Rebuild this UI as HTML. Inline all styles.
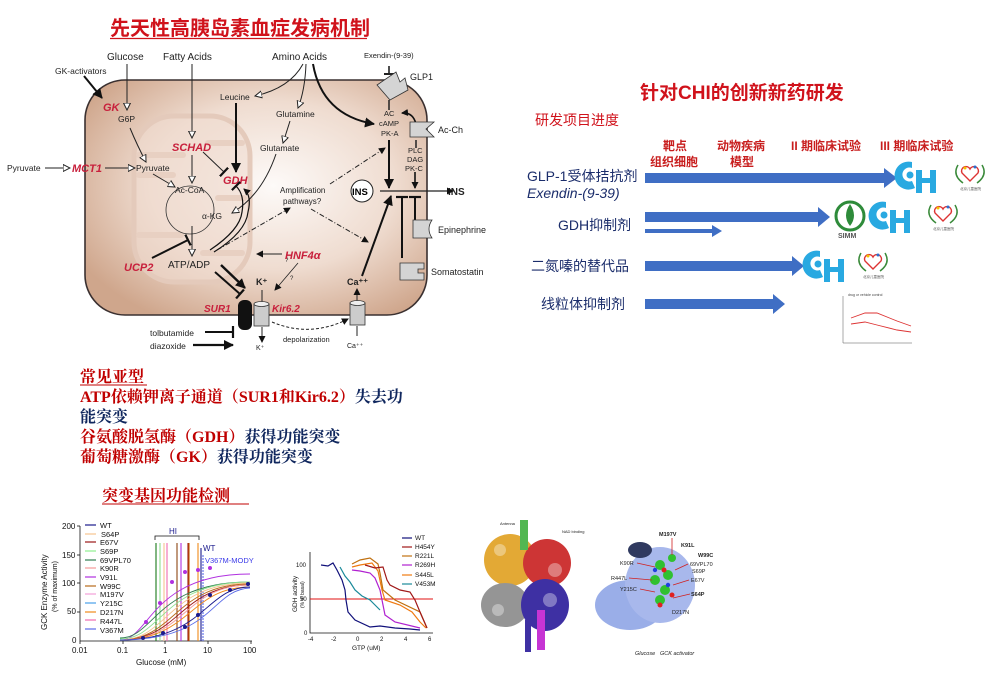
<!DOCTYPE html>
<html><head><meta charset="utf-8"><style>
body{margin:0;background:#fff;width:988px;height:673px;overflow:hidden}
svg{display:block}
.s{font-family:"Liberation Sans","Noto Sans CJK SC",sans-serif}
.r{fill:#c8203c;font-style:italic;font-weight:bold}
.sf{font-family:"Liberation Serif","Noto Serif CJK SC",serif;font-weight:bold}
</style></head><body>
<svg width="988" height="673" viewBox="0 0 988 673" xmlns="http://www.w3.org/2000/svg" class="s">
<defs>
<radialGradient id="cg" cx="0.55" cy="0.45" r="0.65">
<stop offset="0" stop-color="#fdfaf8"/><stop offset="0.55" stop-color="#efdcd0"/><stop offset="1" stop-color="#cfa68c"/>
</radialGradient>
<marker id="op" markerWidth="8" markerHeight="8" refX="7" refY="4" orient="auto" markerUnits="userSpaceOnUse"><path d="M0,0.5 L7,4 L0,7.5 Z" fill="#fff" stroke="#222" stroke-width="1"/></marker>
<marker id="so" markerWidth="10" markerHeight="10" refX="9" refY="5" orient="auto" markerUnits="userSpaceOnUse"><path d="M0,0 L10,5 L0,10 Z" fill="#111"/></marker>
<marker id="sm" markerWidth="7" markerHeight="7" refX="6" refY="3.5" orient="auto" markerUnits="userSpaceOnUse"><path d="M0,0 L7,3.5 L0,7 Z" fill="#111"/></marker>
<marker id="tb" markerWidth="4" markerHeight="12" refX="2" refY="6" orient="auto" markerUnits="userSpaceOnUse"><path d="M2,0 L2,12" stroke="#111" stroke-width="2.2"/></marker>
</defs>

<!-- ===== Top-left diagram ===== -->
<text x="110" y="35" font-size="20" font-weight="bold" fill="#d0121b">先天性高胰岛素血症发病机制</text>
<line x1="110" y1="38.5" x2="367" y2="38.5" stroke="#d0121b" stroke-width="1.3"/>

<rect x="85" y="80" width="342" height="235" rx="40" fill="url(#cg)" stroke="#3a3030" stroke-width="1.6"/>
<rect x="134" y="116" width="116" height="166" rx="40" fill="#f0dcd0" fill-opacity="0.6" stroke="#e4cabb" stroke-width="5"/>
<g fill="#e8d0c2"><rect x="136" y="152" width="50" height="6" rx="3"/><rect x="136" y="172" width="40" height="6" rx="3"/><rect x="136" y="232" width="48" height="6" rx="3"/><rect x="205" y="140" width="40" height="6" rx="3"/><rect x="215" y="195" width="32" height="6" rx="3"/><rect x="200" y="250" width="45" height="6" rx="3"/></g>
<circle cx="190" cy="210" r="24" fill="none" stroke="#333" stroke-width="0.8"/>

<g font-size="10" fill="#222">
<text x="107" y="60">Glucose</text>
<text x="163" y="60">Fatty Acids</text>
<text x="272" y="60">Amino Acids</text>
<text x="55" y="74" font-size="8.5">GK-activators</text>
<text x="364" y="58" font-size="7.5">Exendin-(9-39)</text>
<text x="410" y="80" font-size="9">GLP1</text>
<text x="220" y="100" font-size="8.5">Leucine</text>
<text x="118" y="122" font-size="8.5">G6P</text>
<text x="276" y="117" font-size="8.5">Glutamine</text>
<text x="260" y="151" font-size="8.5">Glutamate</text>
<text x="384" y="116" font-size="7.5">AC</text>
<text x="379" y="126" font-size="7.5">cAMP</text>
<text x="381" y="136" font-size="7.5">PK-A</text>
<text x="438" y="133" font-size="9">Ac-Ch</text>
<text x="408" y="153" font-size="7.5">PLC</text>
<text x="407" y="162" font-size="7.5">DAG</text>
<text x="405" y="171" font-size="7.5">PK-C</text>
<text x="7" y="171" font-size="8.5">Pyruvate</text>
<text x="136" y="171" font-size="8.5">Pyruvate</text>
<text x="175" y="193" font-size="8.5">Ac-CoA</text>
<text x="280" y="193" font-size="8">Amplification</text>
<text x="283" y="204" font-size="8">pathways?</text>
<text x="202" y="219" font-size="8.5">α-KG</text>
<text x="168" y="268" font-size="10">ATP/ADP</text>
<text x="438" y="233" font-size="9">Epinephrine</text>
<text x="431" y="275" font-size="9">Somatostatin</text>
<text x="150" y="336" font-size="8.5">tolbutamide</text>
<text x="150" y="349" font-size="8.5">diazoxide</text>
<text x="283" y="342" font-size="7.5">depolarization</text>
<text x="256" y="350" font-size="7">K⁺</text>
<text x="347" y="348" font-size="7">Ca⁺⁺</text>
<text x="256" y="285" font-size="9" font-weight="bold">K⁺</text>
<text x="347" y="285" font-size="9" font-weight="bold">Ca⁺⁺</text>
<text x="448" y="195" font-size="10" font-weight="bold">INS</text>
<text x="285" y="262" font-size="6">?</text><text x="290" y="280" font-size="6">?</text>
</g>
<circle cx="362" cy="191" r="11" fill="#fff" stroke="#222" stroke-width="1"/>
<text x="352" y="195" font-size="9.5" font-weight="bold">INS</text>
<g font-size="11" class="r">
<text x="103" y="111">GK</text>
<text x="172" y="151">SCHAD</text>
<text x="223" y="184">GDH</text>
<text x="72" y="172">MCT1</text>
<text x="124" y="271">UCP2</text>
<text x="285" y="259">HNF4α</text>
<text x="204" y="312" font-size="10">SUR1</text>
<text x="272" y="312" font-size="10">Kir6.2</text>
</g>

<g fill="none" stroke="#222" stroke-width="1">
<path d="M127,64 V110" marker-end="url(#op)"/>
<path d="M130,128 Q137,145 146,162" marker-end="url(#op)"/>
<path d="M192,64 V138" marker-end="url(#op)"/>
<path d="M192,155 V183" marker-end="url(#op)"/>
<path d="M192,226 V256" marker-end="url(#op)"/>
<path d="M45,168 H70" marker-end="url(#op)"/>
<path d="M105,168 H135" marker-end="url(#op)"/>
<path d="M153,174 L175,187" marker-end="url(#op)"/>
<path d="M303,64 Q290,88 255,96" marker-end="url(#op)"/>
<path d="M306,64 Q305,90 298,108" marker-end="url(#op)"/>
<path d="M290,121 L283,143" marker-end="url(#op)"/>
<path d="M276,154 Q262,195 232,213" marker-end="url(#op)"/>
<path d="M203,152 L224,172" marker-end="url(#tb)"/>
<path d="M389,66 V74" stroke-width="1.6"/><path d="M384,74 H394" stroke-width="2"/>
<path d="M389,100 V110" stroke-width="1.5"/>
<path d="M416,140 V148" stroke-width="1.5"/>
<path d="M380,191 H453" stroke-width="1.3" marker-end="url(#sm)"/>
<path d="M262,290 V302"/>
<path d="M262,327 V342" marker-end="url(#sm)"/>
<path d="M357,302 V289" marker-end="url(#sm)"/>
<path d="M357,326 V336"/>
<path d="M282,254 H257" marker-end="url(#sm)"/>
<path d="M298,263 L275,290" stroke-width="0.8" marker-end="url(#sm)"/>
<path d="M217,250 L290,208" stroke-dasharray="5,2,1,2" marker-end="url(#sm)"/>
<path d="M330,184 L385,148" stroke-dasharray="5,2,1,2" marker-end="url(#sm)"/>
<path d="M311,209 L368,242" stroke-dasharray="5,2,1,2" marker-end="url(#sm)"/>
<path d="M272,322 Q310,338 348,319" stroke-dasharray="3,2" marker-end="url(#sm)"/>
</g>
<g fill="none" stroke="#111" stroke-width="2">
<path d="M84,76 L102,98" marker-end="url(#so)"/>
<path d="M236,103 V172" marker-end="url(#so)"/>
<path d="M313,64 Q322,115 374,124" marker-end="url(#so)"/>
<path d="M389,140 V188" marker-end="url(#so)"/>
<path d="M415,172 V188" stroke-width="1.6" marker-end="url(#sm)"/>
<path d="M416,124 Q413,112 402,113" stroke-width="1.6" marker-end="url(#sm)"/>
<path d="M402,258 V197" marker-end="url(#tb)"/>
<path d="M415,228 V197" marker-end="url(#tb)"/>
<path d="M362,276 L391,196" marker-end="url(#so)"/>
<path d="M152,258 L188,240" marker-end="url(#tb)"/>
<path d="M221,265 L245,288" stroke-width="2.4" marker-end="url(#so)"/>
<path d="M215,272 L240,294" marker-end="url(#tb)"/>
<path d="M210,250 Q240,230 242,212 Q245,195 236,186" stroke-width="1.2" marker-end="url(#tb)"/>
<path d="M214,252 Q246,232 248,212 Q252,196 244,189" stroke-width="1.2" marker-end="url(#sm)"/>
<path d="M205,332 H233" marker-end="url(#tb)"/>
<path d="M193,345 H233" stroke-width="2.2" marker-end="url(#so)"/>
</g>
<g fill="#d4d4d4" stroke="#333" stroke-width="0.8">
<path d="M377,85 L396,72 L400,82 L405,78 L408,90 L390,100 Z"/>
<path d="M410,122 H434 L426,129 L434,137 H410 Z"/>
<path d="M413,220 H432 Q426,229 432,238 H413 Z"/>
<path d="M400,263 H424 V269 H418 V273 H424 V280 H400 Z"/>
</g>
<rect x="238" y="300" width="14" height="30" rx="6" fill="#111"/>
<rect x="254" y="304" width="15" height="22" fill="#ccc" stroke="#333" stroke-width="0.8"/><ellipse cx="261.5" cy="304" rx="7.5" ry="2.5" fill="#eee" stroke="#333" stroke-width="0.8"/>
<rect x="350" y="303" width="15" height="22" fill="#ccc" stroke="#333" stroke-width="0.8"/><ellipse cx="357.5" cy="303" rx="7.5" ry="2.5" fill="#eee" stroke="#333" stroke-width="0.8"/>

<!-- ===== Right section ===== -->
<text x="640" y="99" font-size="19" font-weight="bold" fill="#d0121b">针对CHI的创新新药研发</text>
<text x="535" y="125" font-size="14" fill="#d0121b">研发项目进度</text>
<g font-size="12" font-weight="bold" fill="#c81e1e">
<text x="663" y="150">靶点</text><text x="650" y="166">组织细胞</text>
<text x="717" y="150">动物疾病</text><text x="730" y="166">模型</text>
<text x="791" y="150">II 期临床试验</text>
<text x="880" y="150">III 期临床试验</text>
</g>
<g font-size="14" fill="#1b2d6b">
<text x="527" y="181">GLP-1受体拮抗剂</text>
<text x="527" y="198" font-style="italic">Exendin-(9-39)</text>
<text x="558" y="230">GDH抑制剂</text>
<text x="531" y="271">二氮嗪的替代品</text>
<text x="541" y="309">线粒体抑制剂</text>
</g>
<g fill="#3f6ec4">
<path d="M645,173 H884 V168 L897,178 L884,188 V183 H645 Z"/>
<path d="M645,212 H818 V207 L830,217 L818,227 V222 H645 Z"/>
<path d="M645,229 H712 V225 L722,231 L712,237 V233 H645 Z"/>
<path d="M645,261 H792 V256 L804,266 L792,276 V271 H645 Z"/>
<path d="M645,299 H773 V294 L785,304 L773,314 V309 H645 Z"/>
</g>
<g id="ch" fill="#29a9e1">
<path d="M912,162 a14,14 0 1 0 3,26 l-3,-7 a7,7 0 1 1 0,-13 Z"/>
<circle cx="910" cy="175" r="3.5"/>
<rect x="916" y="170" width="6" height="23"/><rect x="930" y="170" width="6" height="23"/><rect x="916" y="178" width="20" height="5"/>
</g>
<use href="#ch" x="-26" y="40"/>
<use href="#ch" x="-92" y="89"/>
<g id="ht">
<path d="M958,165 q-6,10 5,18 M982,165 q6,10 -5,18" stroke="#3a8a3a" stroke-width="1.5" fill="none"/>
<path d="M970,181 l-8,-8 a4,4 0 0 1 8,-4 a4,4 0 0 1 8,4 z" fill="none" stroke="#d33" stroke-width="1.4"/>
<circle cx="965" cy="168" r="1.5" fill="#f3c200"/><circle cx="975" cy="167" r="1.5" fill="#2a6fd0"/>
<text x="960" y="190" font-size="3.5" fill="#555">北京儿童医院</text>
</g>
<use href="#ht" x="-27" y="40"/>
<use href="#ht" x="-97" y="88"/>
<g id="sm">
<circle cx="850" cy="216" r="14" fill="none" stroke="#2e8b3a" stroke-width="3"/>
<path d="M850,204 q-8,12 0,22 q8,-10 0,-22" fill="#2e8b3a"/>
<text x="838" y="238" font-size="7" font-weight="bold" fill="#555">SIMM</text>
</g>
<use href="#sm" x="-46" y="88"/>
<g stroke="#555" stroke-width="0.5" fill="none">
<path d="M843,296 V343 H912"/>
<path d="M851,318 L865,313 L877,313 L897,321 L911,326" stroke="#d33" stroke-width="0.9"/>
<path d="M851,324 L865,322 L877,325 L897,330 L911,332" stroke="#d33" stroke-width="0.9"/>
</g>
<text x="848" y="296" font-size="3.5" fill="#444">drug or vehicle control</text>

<!-- ===== Bottom-left text ===== -->
<g class="sf" font-size="16">
<text x="80" y="382" fill="#c00000">常见亚型</text>
<line x1="80" y1="385" x2="147" y2="385" stroke="#c00000" stroke-width="1"/>
<text x="80" y="402"><tspan fill="#c00000">ATP依赖钾离子通道（SUR1和Kir6.2）</tspan><tspan fill="#10275e">失去功</tspan></text>
<text x="80" y="422" fill="#10275e">能突变</text>
<text x="80" y="442"><tspan fill="#c00000">谷氨酸脱氢酶（GDH）</tspan><tspan fill="#10275e">获得功能突变</tspan></text>
<text x="80" y="462"><tspan fill="#c00000">葡萄糖激酶（GK）</tspan><tspan fill="#10275e">获得功能突变</tspan></text>
<text x="102" y="501" fill="#c00000">突变基因功能检测</text>
<line x1="102" y1="504" x2="249" y2="504" stroke="#c00000" stroke-width="1"/>
</g>

<!-- GCK chart -->
<g font-size="8" fill="#111">
<path d="M80,526 V641 H252" stroke="#111" fill="none" stroke-width="0.8"/>
<g stroke="#111" stroke-width="0.8"><line x1="77" y1="526" x2="80" y2="526"/><line x1="77" y1="555" x2="80" y2="555"/><line x1="77" y1="583" x2="80" y2="583"/><line x1="77" y1="612" x2="80" y2="612"/><line x1="80" y1="641" x2="80" y2="644"/><line x1="123" y1="641" x2="123" y2="644"/><line x1="165" y1="641" x2="165" y2="644"/><line x1="208" y1="641" x2="208" y2="644"/><line x1="251" y1="641" x2="251" y2="644"/></g>
<text x="62" y="529">200</text><text x="62" y="558">150</text><text x="62" y="586">100</text><text x="67" y="614">50</text><text x="72" y="643">0</text>
<text x="72" y="653">0.01</text><text x="117" y="653">0.1</text><text x="163" y="653">1</text><text x="203" y="653">10</text><text x="243" y="653">100</text>
<text x="136" y="665">Glucose (mM)</text>
<text transform="translate(47,630) rotate(-90)" font-size="8">GCK Enzyme Activity</text>
<text transform="translate(57,612) rotate(-90)" font-size="7">(% of maximum)</text>
<g font-size="7.5">
<text x="100" y="528">WT</text><text x="101" y="537">S64P</text><text x="100" y="545">E67V</text><text x="100" y="554">S69P</text><text x="100" y="563">69VPL70</text><text x="100" y="571">K90R</text><text x="100" y="580">V91L</text><text x="100" y="589">W99C</text><text x="100" y="597">M197V</text><text x="100" y="606">Y215C</text><text x="100" y="615">D217N</text><text x="100" y="624">R447L</text><text x="100" y="633">V367M</text>
</g>
<g stroke-width="1.2">
<line x1="85" y1="525" x2="96" y2="525" stroke="#1a1a8c"/><line x1="85" y1="534" x2="96" y2="534" stroke="#f6c48f"/><line x1="85" y1="542" x2="96" y2="542" stroke="#9b1616"/><line x1="85" y1="551" x2="96" y2="551" stroke="#8ef08e"/><line x1="85" y1="560" x2="96" y2="560" stroke="#2e7d4f"/><line x1="85" y1="568" x2="96" y2="568" stroke="#f59a9a"/><line x1="85" y1="577" x2="96" y2="577" stroke="#b030e0"/><line x1="85" y1="586" x2="96" y2="586" stroke="#b86a1a"/><line x1="85" y1="594" x2="96" y2="594" stroke="#f2a0d8"/><line x1="85" y1="603" x2="96" y2="603" stroke="#4aa0e8"/><line x1="85" y1="612" x2="96" y2="612" stroke="#f08a1a"/><line x1="85" y1="620" x2="96" y2="620" stroke="#f06ab0"/><line x1="85" y1="629" x2="96" y2="629" stroke="#5a6ae8"/>
</g>
<text x="169" y="534" font-size="8" fill="#1a1a8c">HI</text>
<path d="M155,540 V536 H199 V540" stroke="#111" fill="none" stroke-width="0.8"/>
<g stroke-width="1.1">
<line x1="156" y1="543" x2="156" y2="641" stroke="#1a7a1a"/><line x1="160" y1="543" x2="160" y2="641" stroke="#8ee08e"/><line x1="164" y1="543" x2="164" y2="641" stroke="#f6c48f"/><line x1="167" y1="543" x2="167" y2="641" stroke="#f06ab0"/><line x1="177" y1="543" x2="177" y2="641" stroke="#8b4513"/><line x1="181" y1="543" x2="181" y2="641" stroke="#b030e0"/><line x1="188" y1="543" x2="188" y2="641" stroke="#9b1616"/><line x1="189" y1="543" x2="189" y2="641" stroke="#c05a00"/><line x1="198" y1="543" x2="198" y2="641" stroke="#f08a1a"/><line x1="201" y1="548" x2="201" y2="641" stroke="#1a1a8c"/><line x1="203" y1="555" x2="203" y2="641" stroke="#5a6ae8" stroke-dasharray="2,1"/>
</g>
<text x="203" y="551" font-size="8" fill="#1a1a8c">WT</text>
<text x="205" y="563" font-size="7.5" fill="#3a3ae8">V367M-MODY</text>
<g fill="none" stroke-width="0.9">
<path d="M120,640 C150,640 150,574 250,574" stroke="#b030e0"/>
<path d="M120,638 C155,638 155,582 250,582" stroke="#2e7d4f"/>
<path d="M120,639 C162,639 162,582 250,582" stroke="#8ee08e"/>
<path d="M120,640 C168,640 168,583 250,583" stroke="#f6c48f"/>
<path d="M120,640 C175,640 175,584 250,584" stroke="#b86a1a"/>
<path d="M120,640 C180,640 180,585 250,585" stroke="#9b1616"/>
<path d="M120,640 C185,640 185,585 250,585" stroke="#f59a9a"/>
<path d="M120,640 C190,640 190,587 250,587" stroke="#f08a1a"/>
<path d="M120,640 C205,640 205,587 250,587" stroke="#1a1a8c"/>
<path d="M120,640 C215,640 210,590 250,588" stroke="#5a6ae8"/>
</g>
<g fill="#1a1a8c"><circle cx="143" cy="638" r="2"/><circle cx="163" cy="633" r="2"/><circle cx="185" cy="627" r="2"/><circle cx="198" cy="615" r="2"/><circle cx="210" cy="595" r="2"/><circle cx="230" cy="590" r="2"/><circle cx="248" cy="584" r="2"/></g>
<g fill="#b030e0"><circle cx="146" cy="622" r="2"/><circle cx="160" cy="603" r="2"/><circle cx="172" cy="582" r="2"/><circle cx="185" cy="572" r="2"/><circle cx="198" cy="570" r="2"/><circle cx="210" cy="568" r="2"/></g>
</g>

<!-- GDH chart -->
<g font-size="6" fill="#111">
<path d="M310,552 V633 H433" stroke="#111" fill="none" stroke-width="0.8"/>
<line x1="310" y1="599" x2="433" y2="599" stroke="#e01010" stroke-width="1.1"/>
<text x="296" y="567">100</text><text x="300" y="601">50</text><text x="304" y="635">0</text>
<text x="308" y="641">-4</text><text x="331" y="641">-2</text><text x="356" y="641">0</text><text x="380" y="641">2</text><text x="404" y="641">4</text><text x="428" y="641">6</text>
<text x="352" y="650" font-size="6.5">GTP (uM)</text>
<text transform="translate(297,612) rotate(-90)" font-size="6.5">GDH activity</text>
<text transform="translate(304,608) rotate(-90)" font-size="5">(% of basal)</text>
<g fill="none" stroke-width="1.2">
<path d="M321,565 L328,566 L333,563 L337,570 L342,580 L345,590 L346,600 L348,612 L355,620 L370,627 L380,626 L395,628 L410,629 L420,630" stroke="#10107a"/>
<path d="M340,567 L345,576 L350,582 L355,590 L362,596 L370,600 L375,605 L380,610" stroke="#1a8a9a"/>
<path d="M352,570 L360,571 L370,573 L375,578 L380,590 L383,605 L385,615 L395,622 L420,628" stroke="#b020d0"/>
<path d="M352,567 L360,565 L372,563 L378,571 L382,590 L385,600 L400,605 L412,612 L420,622 L426,628" stroke="#f07a10"/>
<path d="M352,564 L360,560 L370,558 L378,564 L380,573 L383,590 L395,600 L420,612 L427,628" stroke="#c07010"/>
<path d="M365,565 L375,568 L383,567 L387,580 L390,585 L400,590 L410,592 L415,600 L420,612 L427,628" stroke="#a01818"/>
</g>
<g font-size="6.5"><text x="415" y="540">WT</text><text x="415" y="549">H454Y</text><text x="415" y="558">R221L</text><text x="415" y="567">R269H</text><text x="415" y="577">S445L</text><text x="415" y="586">V453M</text></g>
<g stroke-width="1.2"><line x1="402" y1="538" x2="412" y2="538" stroke="#10107a"/><line x1="402" y1="547" x2="412" y2="547" stroke="#a01818"/><line x1="402" y1="556" x2="412" y2="556" stroke="#c07010"/><line x1="402" y1="565" x2="412" y2="565" stroke="#b020d0"/><line x1="402" y1="575" x2="412" y2="575" stroke="#f07a10"/><line x1="402" y1="584" x2="412" y2="584" stroke="#1a8a9a"/></g>
</g>

<!-- Protein structure 1 -->
<g opacity="0.9">
<ellipse cx="510" cy="560" rx="26" ry="26" fill="#e0a020"/>
<ellipse cx="547" cy="563" rx="24" ry="24" fill="#c82020"/>
<ellipse cx="505" cy="605" rx="24" ry="22" fill="#8a8a8a"/>
<ellipse cx="545" cy="605" rx="24" ry="26" fill="#2a1a9a"/>
<rect x="520" y="520" width="8" height="30" fill="#40b040"/>
<rect x="537" y="610" width="8" height="40" fill="#c020d0"/>
<rect x="525" y="620" width="6" height="32" fill="#2a1a9a"/>
</g>
<g fill="#fff" opacity="0.35"><circle cx="500" cy="550" r="6"/><circle cx="555" cy="570" r="7"/><circle cx="498" cy="610" r="6"/><circle cx="550" cy="600" r="7"/></g>
<!-- Protein structure 2 -->
<g>
<ellipse cx="630" cy="605" rx="35" ry="25" fill="#9aaee8"/>
<ellipse cx="660" cy="585" rx="35" ry="38" fill="#a8b8ec"/>
<ellipse cx="640" cy="550" rx="12" ry="8" fill="#303a60"/>
<g fill="#30c030"><circle cx="660" cy="565" r="5"/><circle cx="668" cy="575" r="5"/><circle cx="655" cy="580" r="5"/><circle cx="665" cy="590" r="5"/><circle cx="660" cy="600" r="5"/><circle cx="672" cy="558" r="4"/></g>
<g fill="#e02020"><circle cx="664" cy="570" r="2.5"/><circle cx="660" cy="605" r="2.5"/><circle cx="672" cy="595" r="2.5"/></g>
<g fill="#2040e0"><circle cx="655" cy="570" r="2.2"/><circle cx="668" cy="585" r="2.2"/></g>
</g>
<g font-size="5.5" fill="#222">
<text x="659" y="536" font-weight="bold">M197V</text><text x="681" y="547" font-weight="bold">K91L</text><text x="698" y="557" font-weight="bold">W99C</text>
<text x="620" y="565">K90R</text><text x="611" y="580">R447L</text><text x="620" y="591">Y215C</text>
<text x="690" y="566">69VPL70</text><text x="692" y="573">S69P</text><text x="691" y="582">E67V</text><text x="691" y="596" font-weight="bold">S64P</text><text x="672" y="614">D217N</text>
<text x="635" y="655" font-style="italic">Glucose</text><text x="660" y="655" font-style="italic">GCK activator</text>
<text x="500" y="525" font-size="4">Antenna</text><text x="562" y="533" font-size="4">NAD binding</text>
</g>
<g stroke="#d02020" stroke-width="0.8"><line x1="672" y1="538" x2="672" y2="555"/><line x1="637" y1="563" x2="655" y2="567"/><line x1="629" y1="578" x2="652" y2="580"/><line x1="640" y1="589" x2="655" y2="592"/><line x1="688" y1="564" x2="675" y2="570"/><line x1="689" y1="580" x2="673" y2="585"/><line x1="690" y1="594" x2="673" y2="598"/></g>
</svg>
</body></html>
